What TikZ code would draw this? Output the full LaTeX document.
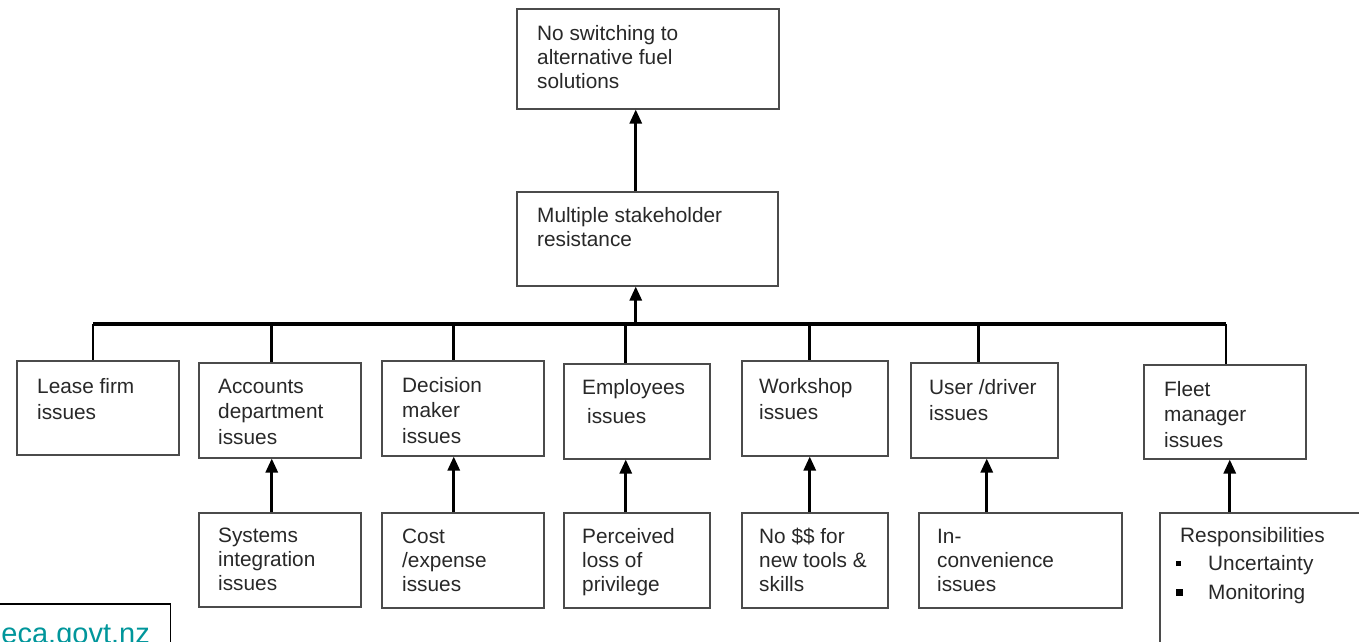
\documentclass[tikz,border=0pt]{standalone}
\usepackage{fontspec}
\setmainfont{Liberation Sans}
\usetikzlibrary{arrows.meta}
\definecolor{txtc}{RGB}{40,40,40}
\definecolor{boxc}{RGB}{75,75,75}
\definecolor{webc}{RGB}{0,150,155}
\begin{document}
\begin{tikzpicture}[x=1pt,y=-1pt,
  box/.style={draw=boxc,line width=1.5pt,anchor=north west,inner sep=0pt},
  txt/.style={anchor=base west,align=left,inner sep=0pt,text=txtc,font=\fontsize{20.8}{24}\selectfont},
  txtb/.style={txt,font=\fontsize{20.8}{25.5}\selectfont},
  conn/.style={line width=2.8pt,black},
  arr/.style={conn,-{Triangle[length=14pt,width=12pt]}},
  bus/.style={line width=3.4pt,black}]
\useasboundingbox (0,0) rectangle (1359,641);
\clip (0,0) rectangle (1359,641);
\fill[white] (0,0) rectangle (1359,641);
% boxes
\node[box,minimum width=262,minimum height=100] (top) at (516,8) {};
\node[box,minimum width=261,minimum height=94] (mid) at (516,191) {};
\node[box,minimum width=162,minimum height=94] (lease) at (16,360) {};
\node[box,minimum width=162,minimum height=95] (acc) at (198,362) {};
\node[box,minimum width=162,minimum height=95] (dec) at (381,360) {};
\node[box,minimum width=146,minimum height=95] (emp) at (563,363) {};
\node[box,minimum width=146,minimum height=95] (work) at (741,360) {};
\node[box,minimum width=147,minimum height=95] (user) at (910,362) {};
\node[box,minimum width=162,minimum height=94] (fleet) at (1143,364) {};
\node[box,minimum width=162,minimum height=94] (sys) at (198,512) {};
\node[box,minimum width=162,minimum height=95] (cost) at (381,512) {};
\node[box,minimum width=146,minimum height=95] (perc) at (563,512) {};
\node[box,minimum width=146,minimum height=95] (money) at (741,512) {};
\node[box,minimum width=203,minimum height=95] (inconv) at (918,512) {};
\node[box,minimum width=260,minimum height=200] (resp) at (1159,512) {};
\node[box,draw=black,anchor=north east,minimum width=220,minimum height=80] (web) at (171,603) {};
% texts (anchored at the baseline of the last line)
\node[txt] (topT) at (537,88) {No switching to\\alternative fuel\\solutions};
\node[txt] (midT) at (537,246) {Multiple stakeholder\\resistance};
\node[txtb] (leaseT) at (37,419) {Lease firm\\issues};
\node[txtb] (accT) at (218,444) {Accounts\\department\\issues};
\node[txtb] (decT) at (402,443) {Decision\\maker\\issues};
\node[txt,font=\fontsize{20.8}{29}\selectfont] (empT) at (582,423) {Employees\\\hspace*{5pt}issues};
\node[txtb] (workT) at (759,419) {Workshop\\issues};
\node[txtb] (userT) at (929,420) {User /driver\\issues};
\node[txtb] (fleetT) at (1164,447) {Fleet\\manager\\issues};
\node[txt] (sysT) at (218,590) {Systems\\integration\\issues};
\node[txt] (costT) at (402,591) {Cost\\/expense\\issues};
\node[txt] (percT) at (582,591) {Perceived\\loss of\\privilege};
\node[txt] (moneyT) at (759,591) {No \$\$ for\\new tools \&\\skills};
\node[txt] (inconvT) at (937,591) {In-\\convenience\\issues};
\node[txt,font=\fontsize{20.8}{28.5}\selectfont] (respT) at (1176,599) {\hspace*{4pt}Responsibilities\\\makebox[32pt][l]{\raisebox{4.5pt}{\color{black}\rule{5pt}{5pt}}}Uncertainty\\\makebox[32pt][l]{\raisebox{3.5pt}{\color{black}\rule{7pt}{7pt}}}Monitoring};
\node[anchor=base east,inner sep=0pt,text=webc,font=\fontsize{29}{34}\selectfont] (webT) at (150,643) {eca.govt.nz};
% bus and drops
\coordinate (busL) at (93,324);
\coordinate (busR) at (1226,324);
\draw[bus] (busL) -- (busR);
\draw[conn] (busL) -- (busL |- lease.north);
\draw[conn] ([xshift=-8pt]acc.north |- busL) -- ([xshift=-8pt]acc.north);
\draw[conn] ([xshift=-9pt]dec.north |- busL) -- ([xshift=-9pt]dec.north);
\draw[conn] ([xshift=-11pt]emp.north |- busL) -- ([xshift=-11pt]emp.north);
\draw[conn] ([xshift=-5pt]work.north |- busL) -- ([xshift=-5pt]work.north);
\draw[conn] ([xshift=-5.5pt]user.north |- busL) -- ([xshift=-5.5pt]user.north);
\draw[conn] (busR) -- (busR |- fleet.north);
% arrows
\draw[arr] ([xshift=-11.5pt]mid.south |- busL) -- ([xshift=-11.5pt]mid.south);
\draw[arr] ([xshift=-11.5pt]mid.north) -- ([xshift=-11.5pt]mid.north |- top.south);
\draw[arr] ([xshift=-8pt]sys.north) -- ([xshift=-8pt]acc.south);
\draw[arr] ([xshift=-9pt]cost.north) -- ([xshift=-9pt]dec.south);
\draw[arr] ([xshift=-11pt]perc.north) -- ([xshift=-11pt]emp.south);
\draw[arr] ([xshift=-5pt]money.north) -- ([xshift=-5pt]work.south);
\draw[arr] ([xshift=2.5pt]user.south |- inconv.north) -- ([xshift=2.5pt]user.south);
\draw[arr] ([xshift=5pt]fleet.south |- resp.north) -- ([xshift=5pt]fleet.south);
\end{tikzpicture}
\end{document}
